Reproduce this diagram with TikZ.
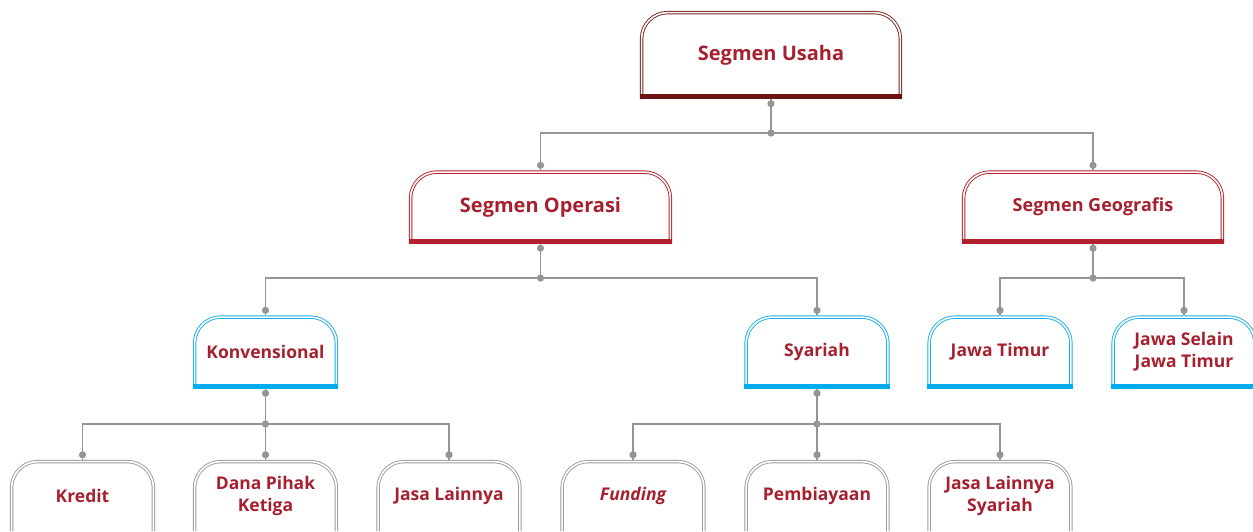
\documentclass[tikz,border=0pt]{standalone}
\usepackage{fontspec}
\setmainfont{Open Sans}
\usepackage{tikz}
\definecolor{TextRed}{HTML}{A6212F}
\definecolor{Maroon}{HTML}{7A2222}
\definecolor{MaroonBar}{HTML}{6A1414}
\definecolor{BrickRed}{HTML}{B2222C}
\definecolor{SkyBlue}{HTML}{1AAFE6}
\definecolor{SkyBar}{HTML}{00AEEF}
\definecolor{FrameGray}{HTML}{9C9C9C}
\definecolor{WireGray}{HTML}{959595}

\tikzset{
  seg/.style={minimum width=#1, inner sep=2pt, align=center,
              text=TextRed, font=\bfseries},
  tabline/.style={draw=#1, double=white, double distance=1.6pt,
                  line width=0.9pt, rounded corners=26pt},
  tabbar/.style={draw=#1, line width=5pt},
  wire/.style={draw=WireGray, line width=1.1pt}
}

\begin{document}
\begin{tikzpicture}[x=1pt,y=-1pt]
  \clip (0,0) rectangle (1253,531);
  \fill[white] (0,0) rectangle (1253,531);

  % level 0 and 1
  \node[seg=262pt, minimum height=88pt, font=\bfseries\fontsize{20}{24}\selectfont]
    (usaha) at (771,55) {Segmen Usaha};
  \node[seg=263pt, minimum height=73pt, font=\bfseries\fontsize{20}{24}\selectfont]
    (operasi) at (540.5,207) {Segmen Operasi};
  \node[seg=262pt, minimum height=73pt, font=\bfseries\fontsize{18}{22}\selectfont]
    (geo) at (1093,207) {Segmen Geografis};

  % level 2
  \node[seg=145pt, minimum height=73pt, font=\bfseries\fontsize{17.5}{22}\selectfont]
    (konv) at (265.5,352) {Konvensional};
  \node[seg=145pt, minimum height=73pt, font=\bfseries\fontsize{17.5}{22}\selectfont]
    (syariah) at (817,352) {Syariah};
  \node[seg=145pt, minimum height=73pt, font=\bfseries\fontsize{17.5}{22}\selectfont]
    (jatim) at (1000,352) {Jawa Timur};
  \node[seg=145pt, minimum height=73pt, font=\bfseries\fontsize{17.5}{22}\selectfont]
    (nonjatim) at (1184,352) {Jawa Selain\\Jawa Timur};

  % level 3
  \node[seg=145pt, minimum height=71pt, font=\bfseries\fontsize{17.5}{22}\selectfont]
    (kredit) at (82.5,495.5) {Kredit};
  \node[seg=145pt, minimum height=71pt, font=\bfseries\fontsize{17.5}{22}\selectfont]
    (dpk) at (265.5,495.5) {Dana Pihak\\Ketiga};
  \node[seg=145pt, minimum height=71pt, font=\bfseries\fontsize{17.5}{22}\selectfont]
    (jasa) at (449,495.5) {Jasa Lainnya};
  \node[seg=145pt, minimum height=71pt, font=\bfseries\itshape\fontsize{17.5}{22}\selectfont]
    (funding) at (633,495.5) {Funding};
  \node[seg=145pt, minimum height=71pt, font=\bfseries\fontsize{17.5}{22}\selectfont]
    (biaya) at (817,495.5) {Pembiayaan};
  \node[seg=145pt, minimum height=71pt, font=\bfseries\fontsize{17.5}{22}\selectfont]
    (jasasy) at (1000,495.5) {Jasa Lainnya\\Syariah};

  % junctions
  \coordinate (j0) at (771,133);
  \coordinate (j1) at (540.5,278);
  \coordinate (j2) at (1093,278);
  \coordinate (j3) at (265.5,424);
  \coordinate (j4) at (817,424);

  % connectors
  \draw[wire] (usaha.south) -- (j0);
  \draw[wire] (j0) -| (operasi.north);
  \draw[wire] (j0) -| (geo.north);
  \draw[wire] (operasi.south) -- (j1);
  \draw[wire] (j1) -| (konv.north);
  \draw[wire] (j1) -| (syariah.north);
  \draw[wire] (geo.south) -- (j2);
  \draw[wire] (j2) -| (jatim.north);
  \draw[wire] (j2) -| (nonjatim.north);
  \draw[wire] (konv.south) -- (j3);
  \draw[wire] (j3) -| (kredit.north);
  \draw[wire] (j3) -| (dpk.north);
  \draw[wire] (j3) -| (jasa.north);
  \draw[wire] (syariah.south) -- (j4);
  \draw[wire] (j4) -| (funding.north);
  \draw[wire] (j4) -| (biaya.north);
  \draw[wire] (j4) -| (jasasy.north);

  % dots
  \foreach \n in {usaha,operasi,geo,konv,syariah}
    \fill[WireGray] ([yshift=-4.5pt]\n.south) circle (3.6pt);
  \foreach \n in {operasi,geo,konv,syariah,jatim,nonjatim,kredit,dpk,jasa,funding,biaya,jasasy}
    \fill[WireGray] ([yshift=5pt]\n.north) circle (3.6pt);
  \foreach \n in {j0,j1,j2,j3,j4}
    \fill[WireGray] (\n) circle (3.6pt);

  % box outlines
  \foreach \n/\c/\b in {usaha/Maroon/MaroonBar, operasi/BrickRed/BrickRed,
      geo/BrickRed/BrickRed, konv/SkyBlue/SkyBar, syariah/SkyBlue/SkyBar,
      jatim/SkyBlue/SkyBar, nonjatim/SkyBlue/SkyBar}{
    \draw[tabline=\c] ([xshift=1.8pt]\n.south west) -- ([xshift=1.8pt,yshift=-1.8pt]\n.north west)
      -- ([xshift=-1.8pt,yshift=-1.8pt]\n.north east) -- ([xshift=-1.8pt]\n.south east);
    \draw[tabbar=\b] ([yshift=2.5pt]\n.south west) -- ([yshift=2.5pt]\n.south east);
  }
  \foreach \n in {kredit,dpk,jasa,funding,biaya,jasasy}
    \draw[tabline=FrameGray] ([xshift=1.8pt]\n.south west) -- ([xshift=1.8pt,yshift=-1.8pt]\n.north west)
      -- ([xshift=-1.8pt,yshift=-1.8pt]\n.north east) -- ([xshift=-1.8pt]\n.south east);
\end{tikzpicture}
\end{document}
